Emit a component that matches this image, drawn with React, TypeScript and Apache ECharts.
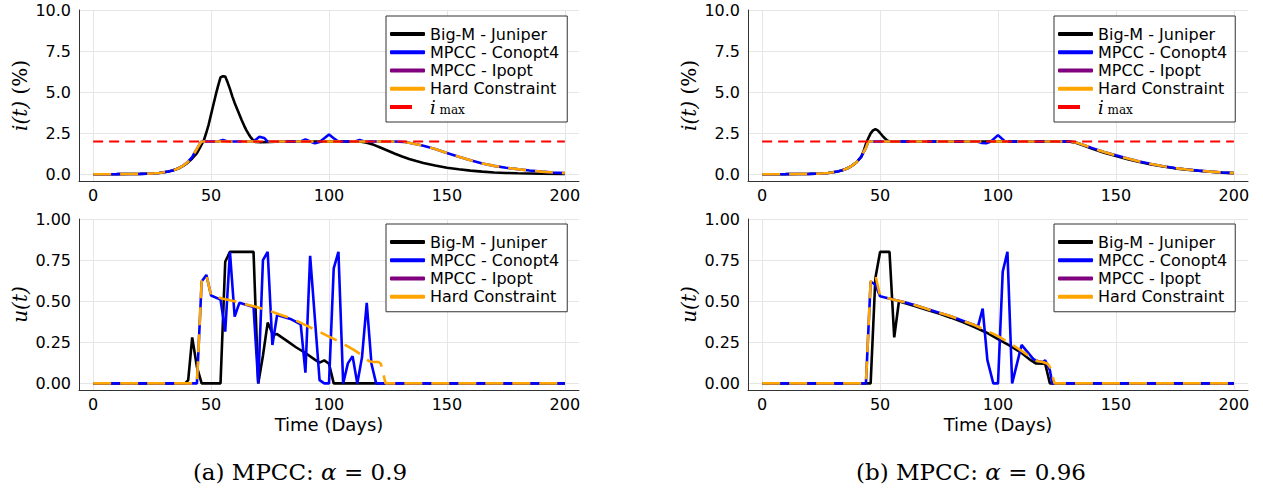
import { useEffect, useRef } from 'react';
import * as echarts from 'echarts';

// ---------- tick labels ----------
const xTicks = [0, 50, 100, 150, 200];
const iTicks = [0, 2.5, 5, 7.5, 10];
const uTicks = [0, 0.25, 0.5, 0.75, 1];

// ---------- series names / colours ----------
const seriesNames = ['Big-M - Juniper', 'MPCC - Conopt4', 'MPCC - Ipopt', 'Hard Constraint'];
const IMAX = 'i_max';
const seriesColors = ['#000000', '#0000ff', '#800080', '#ffa500'];
const imaxColor = '#ff0000';
const captions = ['0.9', '0.96'];

// ---------- threshold ----------
const iMaxLine = [[0, 2], [200, 2]];
const ipoptA: number[][] = [];
const ipoptB: number[][] = [];

// ---------- (a) alpha = 0.9 : infections ----------
const iHardA = [[0, 0.01], [5, 0.012], [10, 0.016], [15, 0.022], [20, 0.035], [25, 0.06], [28, 0.09], [30, 0.13], [32, 0.18], [34, 0.25], [36, 0.36], [38, 0.52], [40, 0.74], [42, 1.05], [43, 1.32], [44, 1.55], [45, 1.8], [46, 2.0], [128, 2.0], [132, 1.97], [135, 1.9], [140, 1.74], [145, 1.55], [150, 1.3], [155, 1.07], [160, 0.86], [165, 0.66], [170, 0.52], [175, 0.41], [180, 0.32], [185, 0.24], [190, 0.17], [195, 0.12], [200, 0.08]];
const iConoptA = [[0, 0.01], [5, 0.012], [10, 0.016], [15, 0.022], [20, 0.035], [25, 0.06], [28, 0.09], [30, 0.13], [32, 0.18], [34, 0.25], [36, 0.36], [38, 0.52], [40, 0.74], [42, 1.05], [43, 1.32], [44, 1.55], [45, 1.8], [46, 2.0], [53, 2.0], [55, 2.1], [57, 2.0], [68, 2.0], [70.5, 2.29], [72.5, 2.22], [74, 2.0], [88, 2.0], [90, 2.13], [92, 2.0], [94, 1.89], [96, 1.97], [98, 2.2], [100, 2.43], [102, 2.2], [104, 2.0], [111, 2.0], [113, 2.09], [115, 2.0], [128, 2.0], [132, 1.97], [135, 1.9], [140, 1.74], [145, 1.55], [150, 1.3], [155, 1.07], [160, 0.86], [165, 0.66], [170, 0.52], [175, 0.41], [180, 0.32], [185, 0.24], [190, 0.17], [195, 0.12], [200, 0.08]];
const iBigMA = [[0, 0.01], [5, 0.012], [10, 0.016], [15, 0.022], [20, 0.035], [25, 0.06], [28, 0.09], [30, 0.13], [32, 0.18], [34, 0.25], [36, 0.36], [38, 0.5], [40, 0.7], [42, 0.97], [44, 1.3], [45, 1.55], [46, 1.82], [47, 2.1], [48, 2.55], [49, 3.05], [50, 3.65], [51, 4.25], [52, 4.85], [53, 5.4], [54, 5.9], [55, 5.97], [56, 5.95], [57, 5.6], [58, 5.2], [59, 4.75], [60, 4.35], [61, 4.0], [62, 3.65], [63, 3.3], [64, 2.97], [65, 2.68], [66, 2.43], [67, 2.22], [68, 2.06], [69, 1.97], [71, 1.96], [75, 1.98], [80, 2.0], [113, 2.0], [116, 1.93], [119, 1.8], [122, 1.62], [125, 1.44], [128, 1.26], [131, 1.09], [134, 0.94], [137, 0.81], [140, 0.7], [145, 0.54], [150, 0.41], [155, 0.31], [160, 0.23], [165, 0.17], [170, 0.12], [175, 0.09], [180, 0.07], [190, 0.04], [200, 0.03]];

// ---------- (a) alpha = 0.9 : control ----------
const uHardA = [[0, 0], [44, 0], [46, 0.62], [48, 0.66], [50, 0.535], [55, 0.515], [60, 0.5], [65, 0.48], [70, 0.462], [75, 0.44], [80, 0.415], [85, 0.39], [90, 0.355], [95, 0.32], [100, 0.285], [105, 0.25], [110, 0.208], [114, 0.172], [117, 0.135], [119, 0.13], [121, 0.13], [122, 0.12], [123, 0.06], [124, 0], [200, 0]];
const uConoptA = [[0, 0], [44, 0], [46, 0.62], [48, 0.66], [50, 0.535], [54, 0.51], [56, 0.315], [58, 0.8], [60, 0.406], [62, 0.49], [68, 0.465], [70, 0], [72, 0.75], [74, 0.8], [76, 0.234], [78, 0.416], [84, 0.39], [88, 0.36], [90, 0.065], [92, 0.776], [96, 0.02], [98, 0], [100, 0], [102, 0.7], [104, 0.8], [106, 0], [108, 0.122], [110, 0.166], [112, 0], [114, 0.16], [116, 0.49], [118, 0.12], [120, 0], [200, 0]];
const uBigMA = [[0, 0], [39, 0], [40.3, 0.02], [42, 0.28], [44, 0.1], [46, 0], [54, 0], [56, 0.74], [58, 0.8], [68, 0.8], [70, 0], [72, 0.17], [74, 0.37], [76.3, 0.295], [78, 0.3], [82, 0.26], [86, 0.22], [90, 0.185], [94, 0.145], [96, 0.126], [98, 0.14], [100, 0.12], [102, 0], [200, 0]];

// ---------- (b) alpha = 0.96 : infections ----------
const iHardB = [[0, 0.01], [5, 0.012], [10, 0.016], [15, 0.022], [20, 0.035], [25, 0.06], [28, 0.09], [30, 0.13], [32, 0.18], [34, 0.25], [36, 0.36], [38, 0.52], [40, 0.74], [42, 1.07], [43, 1.35], [44, 1.62], [45, 2.0], [130, 2.0], [133, 1.95], [136, 1.8], [140, 1.6], [145, 1.36], [150, 1.16], [155, 0.97], [160, 0.79], [165, 0.63], [170, 0.5], [175, 0.39], [180, 0.3], [185, 0.23], [190, 0.17], [195, 0.12], [200, 0.08]];
const iConoptB = [[0, 0.01], [5, 0.012], [10, 0.016], [15, 0.022], [20, 0.035], [25, 0.06], [28, 0.09], [30, 0.13], [32, 0.18], [34, 0.25], [36, 0.36], [38, 0.52], [40, 0.74], [42, 1.07], [43, 1.35], [44, 1.62], [45, 2.0], [91, 2.0], [93, 1.92], [95, 1.9], [97, 2.0], [100, 2.39], [103, 2.0], [130, 2.0], [133, 1.95], [136, 1.8], [140, 1.6], [145, 1.36], [150, 1.16], [155, 0.97], [160, 0.79], [165, 0.63], [170, 0.5], [175, 0.39], [180, 0.3], [185, 0.23], [190, 0.17], [195, 0.12], [200, 0.08]];
const iBigMB = [[0, 0.01], [5, 0.012], [10, 0.016], [15, 0.022], [20, 0.035], [25, 0.06], [28, 0.09], [30, 0.13], [32, 0.18], [34, 0.25], [36, 0.36], [38, 0.52], [40, 0.74], [42, 1.07], [43, 1.4], [44, 1.85], [45, 2.2], [46, 2.5], [47, 2.68], [48, 2.75], [49, 2.68], [50, 2.52], [51, 2.35], [52, 2.2], [53, 2.07], [54, 2.0], [130, 2.0], [133, 1.93], [136, 1.77], [140, 1.56], [145, 1.32], [150, 1.12], [155, 0.93], [160, 0.76], [165, 0.6], [170, 0.48], [175, 0.37], [180, 0.29], [185, 0.22], [190, 0.16], [195, 0.11], [200, 0.08]];

// ---------- (b) alpha = 0.96 : control ----------
const uHardB = [[0, 0], [44, 0], [46, 0.62], [48, 0.66], [50, 0.532], [55, 0.512], [60, 0.495], [65, 0.475], [70, 0.452], [75, 0.43], [80, 0.408], [85, 0.382], [90, 0.355], [95, 0.322], [100, 0.288], [105, 0.245], [110, 0.198], [115, 0.148], [117, 0.135], [119, 0.13], [121, 0.12], [122, 0.1], [123, 0.05], [124, 0], [200, 0]];
const uConoptB = [[0, 0], [44, 0], [46, 0.62], [48, 0.6], [50, 0.53], [55, 0.512], [60, 0.495], [65, 0.475], [70, 0.452], [75, 0.43], [80, 0.408], [85, 0.382], [90, 0.355], [91.5, 0.345], [93.5, 0.455], [95.5, 0.142], [98, 0], [100, 0], [102, 0.68], [104, 0.8], [106, 0], [110, 0.234], [112, 0.2], [115, 0.148], [117, 0.135], [119, 0.13], [120, 0.14], [122, 0.08], [123, 0], [200, 0]];
const uBigMB = [[0, 0], [46, 0], [48, 0.64], [50, 0.8], [54, 0.8], [56, 0.28], [58, 0.5], [60, 0.49], [65, 0.47], [70, 0.447], [75, 0.425], [80, 0.4], [85, 0.373], [90, 0.343], [95, 0.31], [100, 0.27], [105, 0.23], [110, 0.185], [114, 0.14], [116, 0.122], [120, 0.12], [122, 0], [200, 0]];

// ---------- layout (positions only) ----------
const GRIDS = [
  { left: 79, top: 10, width: 500, height: 171 },
  { left: 79, top: 219, width: 500, height: 171 },
  { left: 748, top: 10, width: 500, height: 171 },
  { left: 748, top: 219, width: 500, height: 171 },
];
const LEGEND_POS = [
  { left: 386, top: 16 },
  { left: 386, top: 224 },
  { left: 1054, top: 16 },
  { left: 1054, top: 224 },
];

const SANS = 'DejaVu Sans';
const SERIF = 'DejaVu Serif';

function buildOption() {
  const panels = [
    { data: [iBigMA, iConoptA, ipoptA, iHardA], top: true },
    { data: [uBigMA, uConoptA, ipoptA, uHardA], top: false },
    { data: [iBigMB, iConoptB, ipoptB, iHardB], top: true },
    { data: [uBigMB, uConoptB, ipoptB, uHardB], top: false },
  ];

  const grid = GRIDS.map((g) => ({ ...g, containLabel: false, outerBoundsMode: 'none' }));

  const xAxis = panels.map((p, k) => ({
    type: 'value',
    gridIndex: k,
    min: -6,
    max: 206,
    name: p.top ? '' : 'Time (Days)',
    nameLocation: 'middle',
    nameGap: 25,
    nameTextStyle: { fontFamily: SANS, fontSize: 18, color: '#000' },
    axisLine: { show: true, onZero: false, lineStyle: { color: '#333', width: 1 } },
    axisTick: { show: false, customValues: xTicks },
    axisLabel: { customValues: xTicks, fontFamily: SANS, fontSize: 16, color: '#000', margin: 6, formatter: (v: number) => String(v) },
    splitLine: { show: true, lineStyle: { color: '#e6e6e6', width: 1 } },
  }));

  const yAxis = panels.map((p, k) => ({
    type: 'value',
    gridIndex: k,
    min: p.top ? -0.4 : -0.04,
    max: p.top ? 10 : 1,
    name: p.top ? '{it|i(t)} {rm|(%)}' : '{it|u(t)}',
    nameLocation: 'middle',
    nameRotate: 90,
    nameGap: 49,
    nameTextStyle: {
      fontFamily: SERIF,
      fontSize: 20,
      color: '#000',
      rich: {
        it: { fontFamily: SERIF, fontStyle: 'italic', fontSize: 20, color: '#000' },
        rm: { fontFamily: SERIF, fontSize: 20, color: '#000' },
      },
    },
    axisLine: { show: true, onZero: false, lineStyle: { color: '#333', width: 1 } },
    axisTick: { show: false, customValues: p.top ? iTicks : uTicks },
    axisLabel: {
      customValues: p.top ? iTicks : uTicks,
      fontFamily: SANS,
      fontSize: 16,
      color: '#000',
      margin: 8,
      formatter: (v: number) => (p.top ? v.toFixed(1) : v.toFixed(2)),
    },
    splitLine: { show: true, lineStyle: { color: '#e6e6e6', width: 1 } },
  }));

  const series: any[] = [];
  panels.forEach((p, k) => {
    p.data.forEach((d, j) => {
      series.push({
        type: 'line',
        name: seriesNames[j],
        xAxisIndex: k,
        yAxisIndex: k,
        data: d,
        color: seriesColors[j],
        symbol: 'none',
        showSymbol: false,
        lineStyle: {
          color: seriesColors[j],
          width: 2.6,
          type: j === 3 ? [18, 9] : 'solid',
        },
        z: 2 + j,
      });
    });
    if (p.top) {
      series.push({
        type: 'line',
        name: IMAX,
        xAxisIndex: k,
        yAxisIndex: k,
        data: iMaxLine,
        color: imaxColor,
        symbol: 'none',
        showSymbol: false,
        lineStyle: { color: imaxColor, width: 2, type: [10, 6] },
        z: 7,
      });
    }
  });

  const legend = panels.map((p, k) => {
    const data: any[] = seriesNames.map((n) => ({ name: n, icon: 'roundRect' }));
    if (p.top) data.push({ name: IMAX, icon: 'path://M0,0h22v4h-22zM34.99,0h0.01v4h-0.01z' });
    return {
      ...LEGEND_POS[k],
      orient: 'vertical',
      itemWidth: 35,
      itemHeight: 4,
      itemGap: 0.25,
      padding: [9, 8, 6, 4],
      backgroundColor: '#ffffff',
      borderColor: '#333333',
      borderWidth: 1,
      borderRadius: 0,
      selectedMode: false,
      itemStyle: { borderWidth: 0 },
      textStyle: {
        fontFamily: SANS,
        fontSize: 16,
        color: '#000',
        lineHeight: 18,
        rich: {
          it: { fontFamily: SERIF, fontStyle: 'italic', fontSize: 18, lineHeight: 18, color: '#000' },
          sub: { fontFamily: SERIF, fontSize: 12, lineHeight: 12, verticalAlign: 'bottom', color: '#000' },
        },
      },
      formatter: (name: string) => (name === IMAX ? '{it|i}{sub| max}' : name),
      data,
    };
  });

  const captionRich = {
    rm: { fontFamily: SERIF, fontSize: 23, fill: '#000' },
    it: { fontFamily: SERIF, fontStyle: 'italic', fontSize: 23, fill: '#000' },
  };
  const graphic = [
    {
      type: 'text',
      x: 300,
      y: 472,
      style: {
        text: '{rm|(a) MPCC: }{it|α}{rm| = ' + captions[0] + '}',
        rich: captionRich,
        align: 'center',
        verticalAlign: 'middle',
        textAlign: 'center',
        textVerticalAlign: 'middle',
      },
    },
    {
      type: 'text',
      x: 971,
      y: 472,
      style: {
        text: '{rm|(b) MPCC: }{it|α}{rm| = ' + captions[1] + '}',
        rich: captionRich,
        align: 'center',
        verticalAlign: 'middle',
        textAlign: 'center',
        textVerticalAlign: 'middle',
      },
    },
  ];

  return {
    animation: false,
    backgroundColor: '#ffffff',
    grid,
    xAxis,
    yAxis,
    series,
    legend,
    graphic,
  };
}

export default function App() {
  const ref = useRef<HTMLDivElement>(null);
  useEffect(() => {
    if (!ref.current) return;
    const chart = echarts.init(ref.current, undefined, { renderer: 'svg' });
    chart.setOption(buildOption() as any);
    return () => chart.dispose();
  }, []);
  return (
    <div
      ref={ref}
      style={{ position: 'fixed', left: 0, top: 0, width: 1263, height: 489, background: '#fff' }}
    />
  );
}
